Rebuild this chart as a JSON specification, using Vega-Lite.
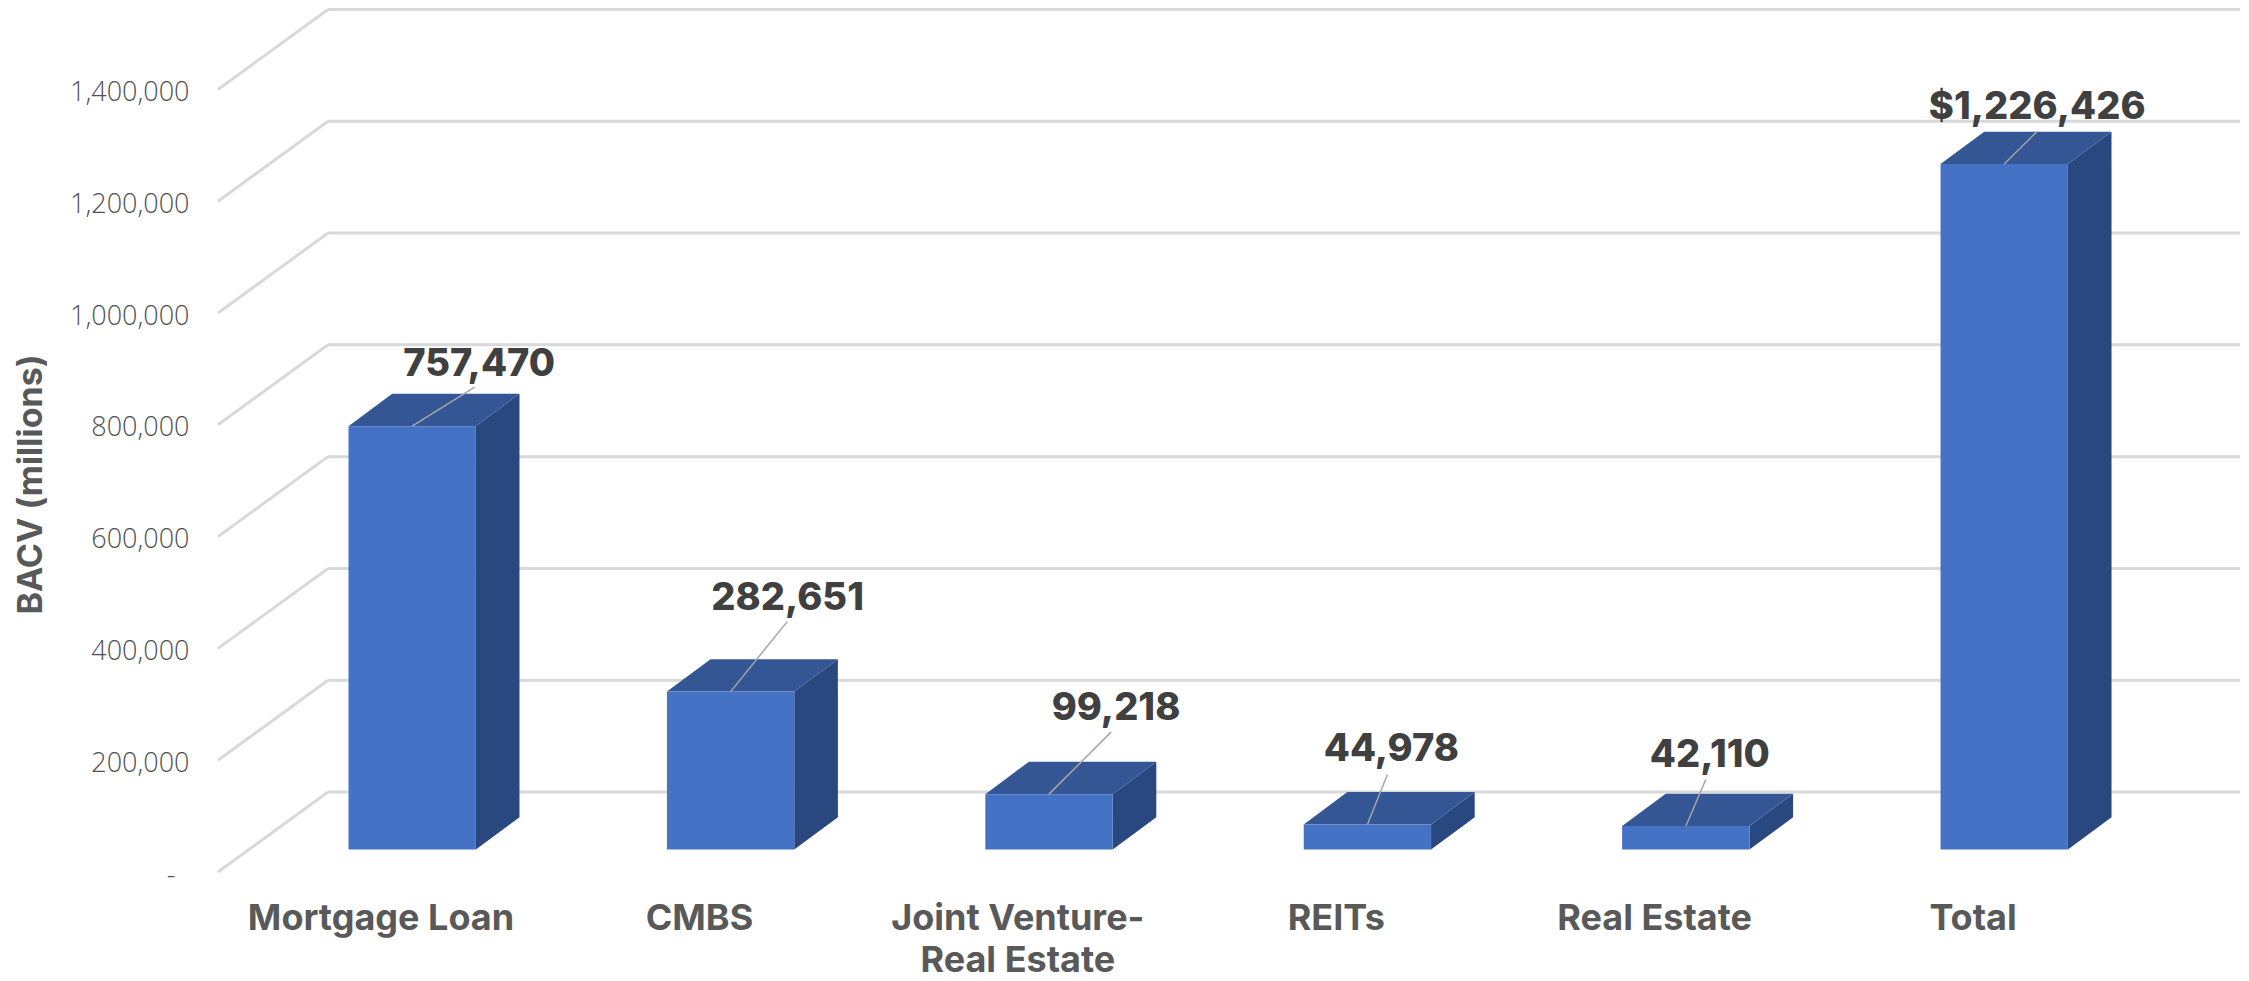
{
"$schema":"https://vega.github.io/schema/vega-lite/v6.json",
"autosize":"none",
"padding":{"left":218,"top":0,"right":9,"bottom":109},
"width":2022,"height":872,
"background":"white",
"view":{"stroke":null},
"datasets":{
 "bars":[
  {"category":"Mortgage Loan","order":0,"value":757470},
  {"category":"CMBS","order":1,"value":282651},
  {"category":"Joint Venture-Real Estate","order":2,"value":99218},
  {"category":"REITs","order":3,"value":44978},
  {"category":"Real Estate","order":4,"value":42110},
  {"category":"Total","order":5,"value":1226426}],
 "grid":[{"tick":0},{"tick":200000},{"tick":400000},{"tick":600000},{"tick":800000},{"tick":1000000},{"tick":1200000},{"tick":1400000}]
},
"params":[
 {"name":"barL","expr":"-0.1005"},
 {"name":"barW","expr":"0.4"},
 {"name":"barDx","expr":"0.137"},
 {"name":"barDy","expr":"57960"},
 {"name":"base","expr":"40070"}
],
"encoding":{
 "x":{"field":"order","type":"quantitative","scale":{"domain":[-0.5104,5.84],"nice":false,"zero":false},
   "axis":{"values":[0,1,2,3,4,5],"title":null,"grid":false,"ticks":false,"domain":false,"labelPadding":29,"labelFont":"Inter","labelFontWeight":"bold","labelFontSize":36,"labelColor":"#595959","labelLineHeight":42,"labelLimit":600,"labelOverlap":false,"labelFlush":false,
   "labelExpr":"[['Mortgage Loan'],['CMBS'],['Joint Venture-','Real Estate'],['REITs'],['Real Estate'],['Total']][datum.value]"}},
 "y":{"field":"value","type":"quantitative","stack":null,"scale":{"domain":[0,1560000],"nice":false},
   "axis":{"values":[0,200000,400000,600000,800000,1000000,1200000,1400000],"grid":false,"ticks":false,"domain":false,"labelPadding":29,"labelOffset":3,"labelFont":"Open Sans","labelFontWeight":300,"labelFontSize":27,"labelColor":"#505050","labelOverlap":false,"labelFlush":false,
   "labelExpr":"datum.value==0?'-\u00a0\u00a0\u200b':format(datum.value,',')",
   "title":"BACV (millions)","titleFont":"Inter","titleFontWeight":"bold","titleFontSize":34,"titleColor":"#595959","titleX":-170,"titleY":484,"titleAlign":"center","titleAngle":-90}}
},
"layer":[
 {"data":{"name":"grid"},
  "transform":[{"calculate":"datum.tick+143100","as":"yb"},{"calculate":"-0.1649","as":"xb"},{"calculate":"5.84","as":"xr"}],
  "mark":{"type":"rule","color":"#D9D9D9","strokeWidth":3},
  "encoding":{"x":{"field":"xb"},"x2":{"field":"xr"},"y":{"field":"yb"},"y2":{"field":"yb"}}},
 {"data":{"name":"grid"},
  "transform":[{"calculate":"datum.tick+143100","as":"yb"},{"calculate":"-0.1649","as":"xb"},{"calculate":"-0.5104","as":"xf"}],
  "mark":{"type":"rule","color":"#D9D9D9","strokeWidth":3},
  "encoding":{"x":{"field":"xf"},"x2":{"field":"xb"},"y":{"field":"tick"},"y2":{"field":"yb"}}},
 {"data":{"name":"bars"},
  "transform":[{"calculate":"[0,1]","as":"t"},{"flatten":["t"]},
   {"calculate":"datum.order+barL+barW+datum.t*barDx","as":"xs"},
   {"calculate":"base+datum.t*barDy","as":"y0"},
   {"calculate":"datum.value+base+datum.t*barDy","as":"y1"}],
  "mark":{"type":"area","orient":"vertical","color":"#2A4880"},
  "encoding":{"x":{"field":"xs"},"y":{"field":"y1"},"y2":{"field":"y0"},"detail":{"field":"category"}}},
 {"data":{"name":"bars"},
  "transform":[{"calculate":"[0,1]","as":"t"},{"flatten":["t"]},
   {"calculate":"datum.order+barL+datum.t*barDx","as":"xa"},
   {"calculate":"datum.order+barL+barW+datum.t*barDx","as":"xc"},
   {"calculate":"datum.value+base+datum.t*barDy","as":"y1"}],
  "mark":{"type":"area","orient":"horizontal","color":"#345694"},
  "encoding":{"y":{"field":"y1"},"x":{"field":"xa","stack":null},"x2":{"field":"xc"},"detail":{"field":"category"}}},
 {"data":{"name":"bars"},
  "transform":[
   {"calculate":"datum.order+barL","as":"xa"},
   {"calculate":"datum.order+barL+barW","as":"xc"},
   {"calculate":"base","as":"y0"},
   {"calculate":"datum.value+base","as":"y1"}],
  "mark":{"type":"rect","color":"#4472C4"},
  "encoding":{"x":{"field":"xa"},"x2":{"field":"xc"},"y":{"field":"y1"},"y2":{"field":"y0"}}},
 {"data":{"name":"bars"},
  "transform":[
   {"calculate":"datum.order+barL+barW/2","as":"xm"},
   {"calculate":"datum.value+base","as":"y1"},
   {"calculate":"{'Mortgage Loan':62.5,'CMBS':56.6,'Joint Venture-Real Estate':62,'REITs':20,'Real Estate':20,'Total':33}[datum.category]/318.4","as":"ldx"},
   {"calculate":"{'Mortgage Loan':39,'CMBS':70,'Joint Venture-Real Estate':62,'REITs':50,'Real Estate':46.5,'Total':32.7}[datum.category]/0.000559","as":"ldy"},
   {"calculate":"datum.xm+datum.ldx","as":"xe"},
   {"calculate":"datum.y1+datum.ldy","as":"ye"}],
  "mark":{"type":"rule","color":"#A6A6A6","strokeWidth":1.5},
  "encoding":{"x":{"field":"xm"},"x2":{"field":"xe"},"y":{"field":"y1"},"y2":{"field":"ye"}}},
 {"data":{"name":"bars"},
  "transform":[
   {"calculate":"datum.order+barL+barW/2+{'Mortgage Loan':67,'CMBS':57,'Joint Venture-Real Estate':67,'REITs':24,'Real Estate':24,'Total':33}[datum.category]/318.4","as":"xl"},
   {"calculate":"datum.value+base+{'Mortgage Loan':61,'CMBS':93,'Joint Venture-Real Estate':85,'REITs':74,'Real Estate':70,'Total':56}[datum.category]/0.000559","as":"yl"},
   {"calculate":"(datum.category=='Total'?'$':'')+format(datum.value,',')","as":"label"}],
  "mark":{"type":"text","font":"Inter","fontWeight":800,"fontSize":38,"color":"#404040","align":"center","baseline":"middle"},
  "encoding":{"x":{"field":"xl"},"y":{"field":"yl"},"text":{"field":"label"}}}
]
}
